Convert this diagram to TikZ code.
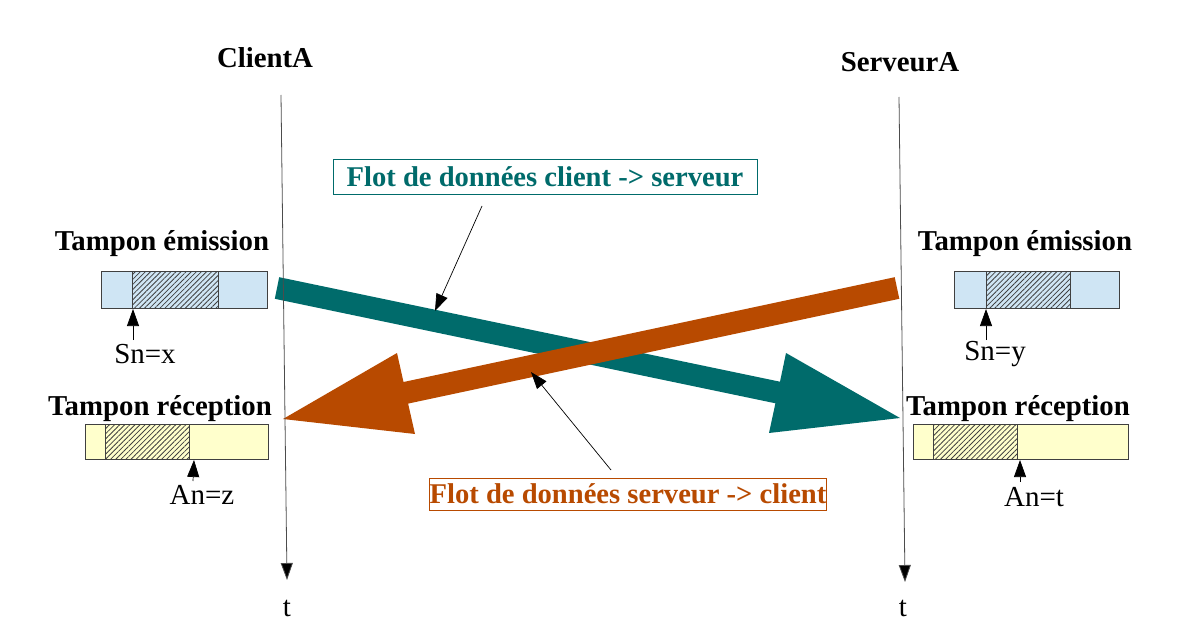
\documentclass[tikz,border=0pt]{standalone}
\usepackage{fontspec}
\setmainfont{Liberation Serif}
\usetikzlibrary{arrows.meta,patterns.meta}
\definecolor{teal1}{HTML}{006B6B}
\definecolor{rust}{HTML}{B84A00}
\definecolor{bufblue}{HTML}{CFE5F4}
\definecolor{bufyel}{HTML}{FFFFCC}
\tikzset{
  title/.style={font=\fontsize{28.8}{31}\selectfont\bfseries, inner sep=0pt},
  lbl/.style={font=\fontsize{29}{31}\selectfont, inner sep=0pt},
  timeline/.style={draw=black!70, line width=0.8pt, -{Triangle[length=17pt,width=12pt,fill=black]}},
  pointer/.style={draw=black, line width=0.7pt, -{Triangle[length=17pt,width=12pt]}},
  buf/.style={draw=black!75, line width=0.8pt},
  hatch/.style={pattern={Lines[angle=45,distance=3.6pt,line width=0.8pt]}, pattern color=black!75},
  flotbox/.style={draw, line width=0.8pt, font=\fontsize{28.6}{30}\selectfont\bfseries, inner sep=0pt}
}
\begin{document}
\begin{tikzpicture}[x=1pt,y=-1pt]
\useasboundingbox (0,0) rectangle (1198,631);
% titles
\node[title] (client) at (265,58) {ClientA};
\node[title] (serveur) at (900,62) {ServeurA};
% big arrows
\fill[teal1] (279.2,277.2) -- (780,381.7) -- (786,353) -- (900,418) -- (769,433) -- (775.4,403.3) -- (274.8,298.8) -- cycle;
\fill[rust] (283,419) -- (397,353) -- (403.5,382) -- (894.7,277.2) -- (899.3,298.8) -- (408.1,403.6) -- (415,434) -- cycle;
% time lines
\coordinate (ca) at (281,95); \coordinate (cb) at (287,580);
\coordinate (sa) at (899,97); \coordinate (sb) at (905,582);
\draw[timeline] (ca) -- (cb);
\draw[timeline] (sa) -- (sb);
\node[lbl] (tc) at (287,608) {t};
\node[lbl] (ts) at (903,608) {t};
% left emission buffer
\node[title] (le) at (162,244) {Tampon émission};
\fill[bufblue] (101,271) rectangle (267,308);
\fill[hatch] (132,271) rectangle (218,308);
\draw[buf] (132,271) rectangle (218,308);
\draw[buf] (101,271) rectangle (267,308);
\node[lbl] (snx) at (145,354) {Sn=x};
\coordinate (snxa) at (133,340); \coordinate (snxb) at (133,309);
\draw[pointer] (snxa) -- (snxb);
% left reception buffer
\node[title] (lr) at (160,409) {Tampon réception};
\fill[bufyel] (85,424) rectangle (268,459);
\fill[hatch] (105,424) rectangle (189,459);
\draw[buf] (105,424) rectangle (189,459);
\draw[buf] (85,424) rectangle (268,459);
\node[lbl] (anz) at (202,495) {An=z};
\coordinate (anza) at (193,481); \coordinate (anzb) at (194,460);
\draw[pointer] (anza) -- (anzb);
% right emission buffer
\node[title] (re) at (1025,244) {Tampon émission};
\fill[bufblue] (954,271) rectangle (1119,308);
\fill[hatch] (986,271) rectangle (1070,308);
\draw[buf] (986,271) rectangle (1070,308);
\draw[buf] (954,271) rectangle (1119,308);
\node[lbl] (sny) at (995,354) {Sn=y};
\coordinate (snya) at (986,340); \coordinate (snyb) at (986,309);
\draw[pointer] (snya) -- (snyb);
% right reception buffer
\node[title] (rr) at (1018,409) {Tampon réception};
\fill[bufyel] (913,424) rectangle (1128,459);
\fill[hatch] (933,424) rectangle (1017,459);
\draw[buf] (933,424) rectangle (1017,459);
\draw[buf] (913,424) rectangle (1128,459);
\node[lbl] (ant) at (1034,497) {An=t};
\coordinate (anta) at (1020,482); \coordinate (antb) at (1020,460);
\draw[pointer] (anta) -- (antb);
% flow labels
\node[flotbox, draw=teal1, text=teal1, fill=white, minimum width=424pt, minimum height=35pt] (fcs) at (545,176.5) {Flot de données client -> serveur};
\node[flotbox, draw=rust, text=rust, fill=white, minimum width=396pt, minimum height=32pt] (fsc) at (628,494) {Flot de données serveur -> client};
\coordinate (p1a) at (482,206); \coordinate (p1b) at (435,311);
\draw[pointer] (p1a) -- (p1b);
\coordinate (p2a) at (611,470); \coordinate (p2b) at (531,372);
\draw[pointer] (p2a) -- (p2b);
\end{tikzpicture}
\end{document}
